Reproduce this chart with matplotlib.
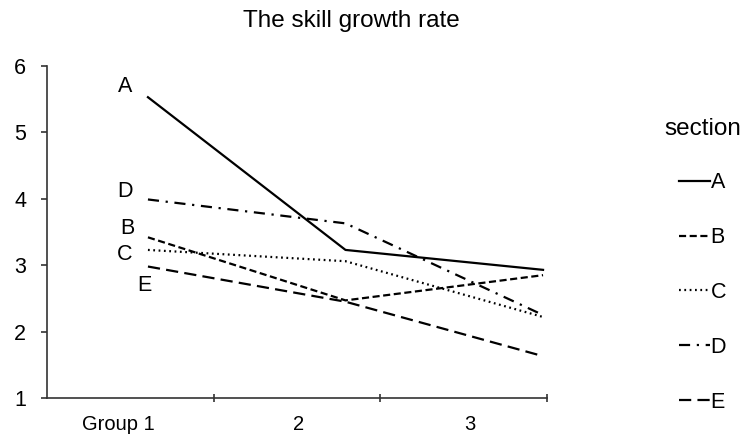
import matplotlib
matplotlib.use("Agg")
import matplotlib.pyplot as plt
from matplotlib.lines import Line2D

plt.rcParams['font.family'] = ['Liberation Sans', 'DejaVu Sans']

title = "The skill growth rate"
legend_title = "section"
categories = ["Group 1", "2", "3"]
series_names = ["A", "B", "C", "D", "E"]
A = [5.53, 3.23, 2.93]
B = [3.42, 2.47, 2.85]
C = [3.23, 3.06, 2.22]
D = [3.99, 3.63, 2.25]
E = [2.98, 2.45, 1.63]
yticks = [1, 2, 3, 4, 5, 6]

values = [A, B, C, D, E]
styles = {
    "A": dict(linestyle="-"),
    "B": dict(linestyle=(0, (3.2, 1.6))),
    "C": dict(linestyle=(0, (0.8, 1.6))),
    "D": dict(linestyle=(0, (5, 3, 1, 3))),
    "E": dict(linestyle=(0, (5.5, 2.8))),
}
label_offsets = {"A": (-16.5, 7.5), "B": (-14.5, 6), "C": (-17, -3.5),
                 "D": (-16.5, 6), "E": (-2.5, -13.5)}

fig = plt.figure(figsize=(7.51, 4.43), dpi=100)
ax = fig.add_axes([47/751, 1 - 398/443, 500/751, 332/443])

xs = list(range(len(categories)))
for name, vals in zip(series_names, values):
    ax.plot(xs, vals, color="black", linewidth=1.6, **styles[name])
    ax.annotate(name, (xs[0], vals[0]), xytext=label_offsets[name],
                textcoords="offset points", ha="center", va="center",
                fontsize=15.5)

ax.set_ylim(1, 6)
ax.set_xlim(-0.511, 2.02)
ax.set_yticks(yticks)
ax.set_yticklabels([str(t) for t in yticks], fontsize=15.5)
# category boundary ticks and centered labels
ax.set_xticks([0.334, 1.175, 2.02])
ax.set_xticklabels([])
ax.set_xticks([-0.152, 0.76, 1.63], minor=True)
ax.set_xticklabels(categories, minor=True, fontsize=14.5)
ax.tick_params(axis="x", which="minor", length=0, pad=12)
ax.tick_params(axis="x", which="major", length=6, direction="inout", width=1.2, color="#333333")
ax.tick_params(axis="y", length=4, width=1.2, color="#333333", pad=11)
for s in ["top", "right"]:
    ax.spines[s].set_visible(False)
for s in ["left", "bottom"]:
    ax.spines[s].set_linewidth(1.2)
    ax.spines[s].set_color("#333333")

fig.text(351/751, 1 - 21/443, title, ha="center", va="center", fontsize=17.5)

handles = [Line2D([0], [0], color="black", linewidth=1.6, **styles[n]) for n in series_names]
leg = fig.legend(handles, series_names, loc="upper left",
                 bbox_to_anchor=(645/751, 1 - 99/443), frameon=False,
                 title=legend_title, fontsize=15.5, title_fontsize=17.5,
                 handlelength=1.4, handletextpad=0.05, labelspacing=1.57,
                 alignment="center")
leg._legend_box.sep = 23

fig.savefig("out.png", dpi=100)
